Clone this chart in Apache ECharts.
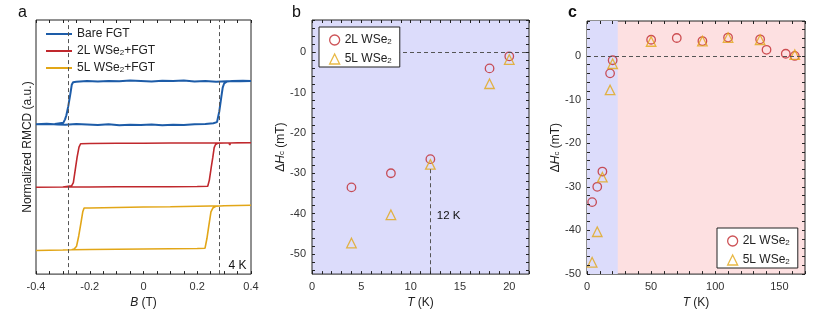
<!DOCTYPE html>
<html><head><meta charset="utf-8">
<script src="https://cdn.jsdelivr.net/npm/echarts@6/dist/echarts.min.js"></script>
<style>html,body{margin:0;padding:0;background:#fff}#c{width:831px;height:314px}</style>
</head><body><div id="c"></div>
<script>
// ---------- Panel a: RMCD hysteresis loops at 4 K, [B (T), normalized RMCD + offset] ----------
const bareFGT = [
  [-0.40,5.90],[-0.36,5.92],[-0.32,5.89],[-0.29,5.88],[-0.25,5.91],[-0.21,5.89],[-0.17,5.87],[-0.13,5.90],
  [-0.09,5.86],[-0.05,5.88],[-0.01,5.87],[0.03,5.89],[0.07,5.86],[0.11,5.88],[0.15,5.87],[0.19,5.90],
  [0.23,5.91],[0.26,5.94],[0.2735,5.98],[0.282,6.40],[0.290,7.00],[0.2947,7.34],[0.300,7.50],[0.306,7.56],
  [0.311,7.58],[0.33,7.60],[0.36,7.59],[0.40,7.60],[0.37,7.61],[0.33,7.60],[0.29,7.58],[0.27,7.57],
  [0.23,7.60],[0.19,7.58],[0.15,7.62],[0.11,7.60],[0.07,7.61],[0.03,7.58],[-0.01,7.60],[-0.05,7.62],
  [-0.09,7.59],[-0.13,7.60],[-0.17,7.58],[-0.21,7.60],[-0.25,7.57],[-0.262,7.55],[-0.267,7.45],
  [-0.272,7.10],[-0.280,6.60],[-0.287,6.25],[-0.292,6.09],[-0.298,5.96],[-0.304,5.90],[-0.33,5.91],
  [-0.36,5.90],[-0.40,5.90]
];
const wse2L2FGT = [
  [-0.40,3.42],[-0.30,3.43],[-0.20,3.43],[-0.10,3.44],[0.00,3.44],[0.10,3.44],[0.20,3.45],[0.239,3.46],
  [0.245,3.70],[0.252,4.20],[0.258,4.60],[0.263,4.98],[0.268,5.10],[0.276,5.15],[0.30,5.16],[0.318,5.16],
  [0.321,5.08],[0.324,5.16],[0.35,5.17],[0.40,5.17],[0.30,5.16],[0.20,5.16],[0.10,5.16],[0.00,5.15],
  [-0.10,5.15],[-0.20,5.14],[-0.234,5.13],[-0.240,5.00],[-0.247,4.60],[-0.254,4.10],[-0.261,3.60],
  [-0.267,3.48],[-0.273,3.44],[-0.30,3.43],[-0.40,3.42]
];
const wse2L5FGT = [
  [-0.40,0.93],[-0.30,0.95],[-0.267,0.96],[-0.20,0.97],[-0.10,0.98],[0.00,0.99],[0.10,1.00],[0.20,1.01],
  [0.229,1.02],[0.236,1.40],[0.243,1.90],[0.251,2.45],[0.258,2.60],[0.269,2.67],[0.30,2.69],[0.40,2.71],
  [0.20,2.67],[0.10,2.65],[0.00,2.64],[-0.10,2.62],[-0.20,2.60],[-0.221,2.60],[-0.226,2.45],[-0.233,2.00],
  [-0.241,1.50],[-0.249,1.10],[-0.258,0.99],[-0.267,0.96],[-0.30,0.95],[-0.40,0.93]
];
const bareCoercive = [-0.285, 0.285];

// ---------- Panels b & c: ΔHc vs T ----------
const temps2L = [4, 8, 12, 18, 20, 50, 70, 90, 110, 135, 140, 155, 162];
const dHc2L   = [-33.5, -30, -26.5, -4, -1, 3.7, 4.1, 3.4, 4.2, 3.8, 1.4, 0.5, 0];
const temps5L = [4, 8, 12, 18, 20, 50, 90, 110, 135, 162];
const dHc5L   = [-47.3, -40.3, -27.8, -7.8, -1.8, 3.3, 3.4, 4.2, 3.7, 0.3];
const lowTRegion = [0, 24];     // blue shaded range in c
const markTemp = 12;            // 12 K marker in b

// ---------- tick labels ----------
const aXLabels = [-0.4, -0.2, 0, 0.2, 0.4];
const bXLabels = [0, 5, 10, 15, 20];
const bYLabels = [-50, -40, -30, -20, -10, 0];
const cXLabels = [0, 50, 100, 150];
const cYLabels = [-50, -40, -30, -20, -10, 0];

const FONT = '"Liberation Sans", Arial, sans-serif';
const RED = '#c0282d', YEL = '#e2a617', BLUE = '#1d5ca8';
function steps(a, b, s) { const r = []; for (let i = 0; a + i * s <= b + 1e-9; i++) r.push(+(a + i * s).toFixed(4)); return r; }
const richSub = {
  s: { fontSize: 8, verticalAlign: 'bottom', lineHeight: 8, padding: [9, 0, 0, 0], fontFamily: FONT },
  i: { fontStyle: 'italic', fontFamily: FONT, fontSize: 12 }
};

function xAxes(gi, min, max, labels, ticks, name, gap) {
  const tick = { inside: true, length: 3, customValues: ticks, lineStyle: { color: '#222' } };
  return [
    { type: 'value', gridIndex: gi, position: 'bottom', min, max, z: 5, axisLine: { show: false, onZero: false }, splitLine: { show: false },
      axisTick: tick,
      axisLabel: { customValues: labels, margin: 7, fontSize: 11, color: '#333', fontFamily: FONT, formatter: v => String(v) },
      name, nameLocation: 'middle', nameGap: gap,
      nameTextStyle: { fontSize: 12, color: '#222', fontFamily: FONT, rich: richSub } },
    { type: 'value', gridIndex: gi, position: 'top', min, max, z: 5, axisLine: { show: false, onZero: false }, splitLine: { show: false },
      axisTick: tick, axisLabel: { show: false } }
  ];
}
function yAxes(gi, min, max, labels, ticks, name, gap) {
  const tick = { inside: true, length: 3, customValues: ticks, show: ticks.length > 0, lineStyle: { color: '#222' } };
  return [
    { type: 'value', gridIndex: gi, position: 'left', min, max, z: 5, axisLine: { show: false, onZero: false }, splitLine: { show: false },
      axisTick: tick,
      axisLabel: { show: labels.length > 0, customValues: labels, margin: 6, fontSize: 11, color: '#333', fontFamily: FONT, formatter: v => String(v) },
      name, nameLocation: 'middle', nameGap: gap,
      nameTextStyle: { fontSize: 12, color: '#222', fontFamily: FONT, rich: richSub } },
    { type: 'value', gridIndex: gi, position: 'right', min, max, z: 5, axisLine: { show: false, onZero: false }, splitLine: { show: false },
      axisTick: tick, axisLabel: { show: false } }
  ];
}

const inB = t => t <= 22;
const pts = (ts, vs, f) => ts.map((t, i) => [t, vs[i]]).filter(p => f(p[0]));
const all = () => true;

const dash = { type: [4, 3], color: '#555', width: 1 };
const circleStyle = { color: 'rgba(0,0,0,0)', borderColor: RED, borderWidth: 1.3 };
const triStyle = { color: 'rgba(0,0,0,0)', borderColor: YEL, borderWidth: 1.3 };
const subFmt = n => n.replace('Se2', 'Se{s|2}');

const legendScatter = (left, top) => ({
  left, top, orient: 'vertical', padding: [2, 8, 2, 10], itemGap: 2, itemWidth: 10, itemHeight: 10,
  backgroundColor: '#fff', borderColor: '#222', borderWidth: 1, borderRadius: 0, z: 6,
  textStyle: { fontSize: 12, color: '#222', fontFamily: FONT, rich: richSub }, formatter: subFmt,
  data: [
    { name: '2L WSe2', icon: 'circle', itemStyle: circleStyle },
    { name: '5L WSe2', icon: 'triangle', itemStyle: triStyle }
  ],
  selectedMode: false
});

const option = {
  animation: false,
  backgroundColor: '#fff',
  title: [
    { text: 'a', left: 13, top: 0, textStyle: { fontSize: 16, fontWeight: 'normal', color: '#111', fontFamily: FONT } },
    { text: 'b', left: 287, top: 0, textStyle: { fontSize: 16, fontWeight: 'normal', color: '#111', fontFamily: FONT } },
    { text: 'c', left: 563, top: 0, textStyle: { fontSize: 16, fontWeight: 'bold', color: '#111', fontFamily: FONT } }
  ],
  grid: [
    { left: 36, right: 580, top: 20, bottom: 38, show: true, z: 0, borderColor: '#222', borderWidth: 1, backgroundColor: '#fff' },
    { left: 312, right: 302, top: 20, bottom: 39, show: true, z: 0, borderColor: '#222', borderWidth: 1, backgroundColor: '#dcdcfb' },
    { left: 587, right: 26, top: 21, bottom: 39, show: true, z: 0, borderColor: '#222', borderWidth: 1, backgroundColor: '#fde0e1' }
  ],
  xAxis: [
    ...xAxes(0, -0.4, 0.4, aXLabels, steps(-0.4, 0.4, 0.05), '{i|B} (T)', 21),
    ...xAxes(1, 0, 22, bXLabels, steps(0, 22, 1), '{i|T} (K)', 21),
    ...xAxes(2, 0, 170, cXLabels, steps(0, 170, 10), '{i|T} (K)', 21)
  ],
  yAxis: [
    ...yAxes(0, 0, 10, [], [], 'Normalized RMCD (a.u.)', 2),
    ...yAxes(1, -55, 8, bYLabels, steps(-54, 8, 2), 'Δ{i|H}{s|c} (mT)', 20),
    ...yAxes(2, -50, 8, cYLabels, steps(-50, 8, 2), 'Δ{i|H}{s|c} (mT)', 25)
  ],
  legend: [
    { left: 46, top: 28, padding: 0, orient: 'vertical', icon: 'rect', itemWidth: 26, itemHeight: 2, itemGap: 0,
      textStyle: { fontSize: 12, color: '#222', fontFamily: FONT, rich: richSub }, formatter: subFmt,
      data: ['Bare FGT', '2L WSe2+FGT', '5L WSe2+FGT'], selectedMode: false },
    legendScatter(319, 27),
    legendScatter(717, 228)
  ],
  series: [
    { name: 'Bare FGT', type: 'line', xAxisIndex: 0, yAxisIndex: 0, data: bareFGT, showSymbol: false,
      lineStyle: { color: BLUE, width: 2 }, itemStyle: { color: BLUE },
      markLine: { silent: true, symbol: 'none', label: { show: false }, lineStyle: dash,
        data: bareCoercive.map(v => ({ xAxis: v })) },
      markPoint: { symbol: 'circle', symbolSize: 1, itemStyle: { color: 'rgba(0,0,0,0)' },
        label: { show: true, position: 'inside', formatter: '4 K', fontSize: 12, color: '#111', fontFamily: FONT },
        data: [{ coord: [0.35, 0.35] }] } },
    { name: '2L WSe2+FGT', type: 'line', xAxisIndex: 0, yAxisIndex: 0, data: wse2L2FGT, showSymbol: false,
      lineStyle: { color: RED, width: 1.6 }, itemStyle: { color: RED } },
    { name: '5L WSe2+FGT', type: 'line', xAxisIndex: 0, yAxisIndex: 0, data: wse2L5FGT, showSymbol: false,
      lineStyle: { color: YEL, width: 1.6 }, itemStyle: { color: YEL } },

    // panel b
    { name: '2L WSe2', type: 'scatter', xAxisIndex: 2, yAxisIndex: 2, data: pts(temps2L, dHc2L, inB),
      symbol: 'circle', symbolSize: 8.5, itemStyle: circleStyle, z: 3,
      markLine: { silent: true, symbol: 'none', label: { show: false }, lineStyle: dash,
        data: [{ yAxis: 0 }, [{ coord: [markTemp, -29] }, { coord: [markTemp, -55] }]] },
      markPoint: { symbol: 'circle', symbolSize: 1, itemStyle: { color: 'rgba(0,0,0,0)' },
        label: { show: true, position: 'right', distance: 0, formatter: markTemp + ' K', fontSize: 11.5, color: '#111', fontFamily: FONT },
        data: [{ coord: [markTemp + 0.6, -40.5] }] } },
    { name: '5L WSe2', type: 'scatter', xAxisIndex: 2, yAxisIndex: 2, data: pts(temps5L, dHc5L, inB),
      symbol: 'triangle', symbolSize: 9.5, itemStyle: triStyle, z: 3 },

    // panel c
    { name: '2L WSe2', type: 'scatter', xAxisIndex: 4, yAxisIndex: 4, data: pts(temps2L, dHc2L, all),
      symbol: 'circle', symbolSize: 8.5, itemStyle: circleStyle, z: 3,
      markArea: { silent: true, itemStyle: { color: '#dcdcfb' }, data: [[{ xAxis: lowTRegion[0] }, { xAxis: lowTRegion[1] }]] },
      markLine: { silent: true, symbol: 'none', label: { show: false }, lineStyle: dash, data: [{ yAxis: 0 }] } },
    { name: '5L WSe2', type: 'scatter', xAxisIndex: 4, yAxisIndex: 4, data: pts(temps5L, dHc5L, all),
      symbol: 'triangle', symbolSize: 9.5, itemStyle: triStyle, z: 3 }
  ]
};
echarts.init(document.getElementById('c'), null, { renderer: 'canvas' }).setOption(option);
</script>
</body></html>
